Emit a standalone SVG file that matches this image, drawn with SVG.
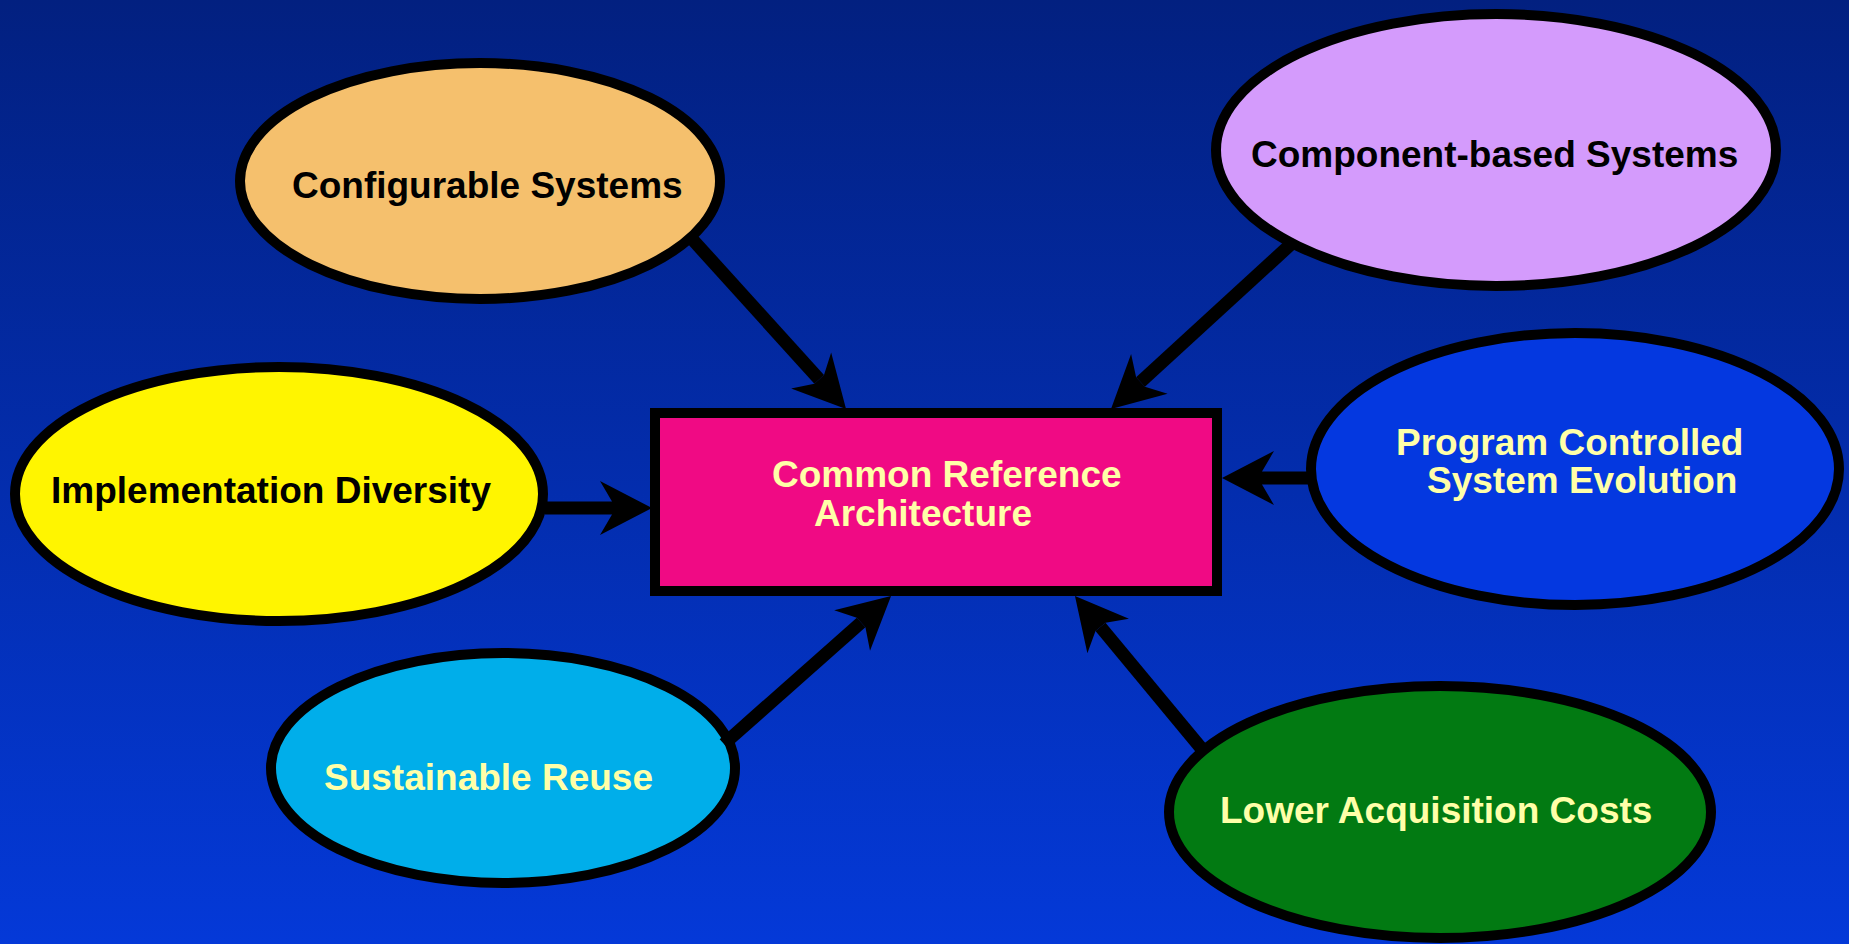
<svg xmlns="http://www.w3.org/2000/svg" width="1849" height="944" viewBox="0 0 1849 944">
  <defs>
    <linearGradient id="bg" x1="0" y1="0" x2="0" y2="1">
      <stop offset="0" stop-color="#022080"/>
      <stop offset="1" stop-color="#0439D8"/>
    </linearGradient>
    <marker id="head" markerUnits="userSpaceOnUse" markerWidth="60" markerHeight="60" refX="0" refY="0" orient="auto" overflow="visible">
      <path d="M40,0 L-12,-27 L0,-6.5 L0,6.5 L-12,27 Z" fill="#000"/>
    </marker>
  </defs>
  <style>
    .node { stroke: #000; stroke-width: 10; }
    .lbl { font-family: "Liberation Sans", Arial, sans-serif; font-weight: bold; font-size: 37px; }
    .dark { fill: #000; }
    .light { fill: #FFFFA8; }
    .conn { stroke: #000; stroke-width: 13; fill: none; marker-end: url(#head); }
  </style>
  <rect x="0" y="0" width="1849" height="944" fill="url(#bg)"/>

  <g id="node-configurable">
    <ellipse class="node" cx="480" cy="181" rx="240" ry="118" fill="#F5C06D"/>
    <text class="lbl dark" x="292" y="198">Configurable Systems</text>
  </g>
  <g id="node-component">
    <ellipse class="node" cx="1496" cy="150" rx="280" ry="136" fill="#D49BFC"/>
    <text class="lbl dark" x="1251" y="167">Component-based Systems</text>
  </g>
  <g id="node-implementation">
    <ellipse class="node" cx="279" cy="494" rx="264" ry="127" fill="#FFF500"/>
    <text class="lbl dark" x="51" y="503">Implementation Diversity</text>
  </g>
  <g id="node-program">
    <ellipse class="node" cx="1575" cy="469" rx="264" ry="136" fill="#0438E0"/>
    <text class="lbl light" x="1396" y="455">Program Controlled</text>
    <text class="lbl light" x="1427" y="493">System Evolution</text>
  </g>
  <g id="node-reuse">
    <ellipse class="node" cx="503" cy="768" rx="232" ry="115" fill="#00AEEA"/>
    <text class="lbl light" x="324" y="790">Sustainable Reuse</text>
  </g>
  <g id="node-costs">
    <ellipse class="node" cx="1440" cy="812" rx="271" ry="126" fill="#027A12"/>
    <text class="lbl light" x="1220" y="823">Lower Acquisition Costs</text>
  </g>
  <g id="node-center">
    <rect class="node" x="655" y="413" width="562" height="178" fill="#F00A84"/>
    <text class="lbl light" x="772" y="487">Common Reference</text>
    <text class="lbl light" x="814" y="526">Architecture</text>
  </g>

  <g id="connectors">
    <line class="conn" x1="545" y1="508" x2="612" y2="508"/>
    <line class="conn" x1="693" y1="240" x2="819.2" y2="379.4"/>
    <line class="conn" x1="1290" y1="245" x2="1140.5" y2="382"/>
    <line class="conn" x1="1308" y1="478" x2="1262" y2="478"/>
    <line class="conn" x1="724" y1="744" x2="861.1" y2="622.5"/>
    <line class="conn" x1="1201" y1="748" x2="1100.5" y2="626.8"/>
  </g>
</svg>
